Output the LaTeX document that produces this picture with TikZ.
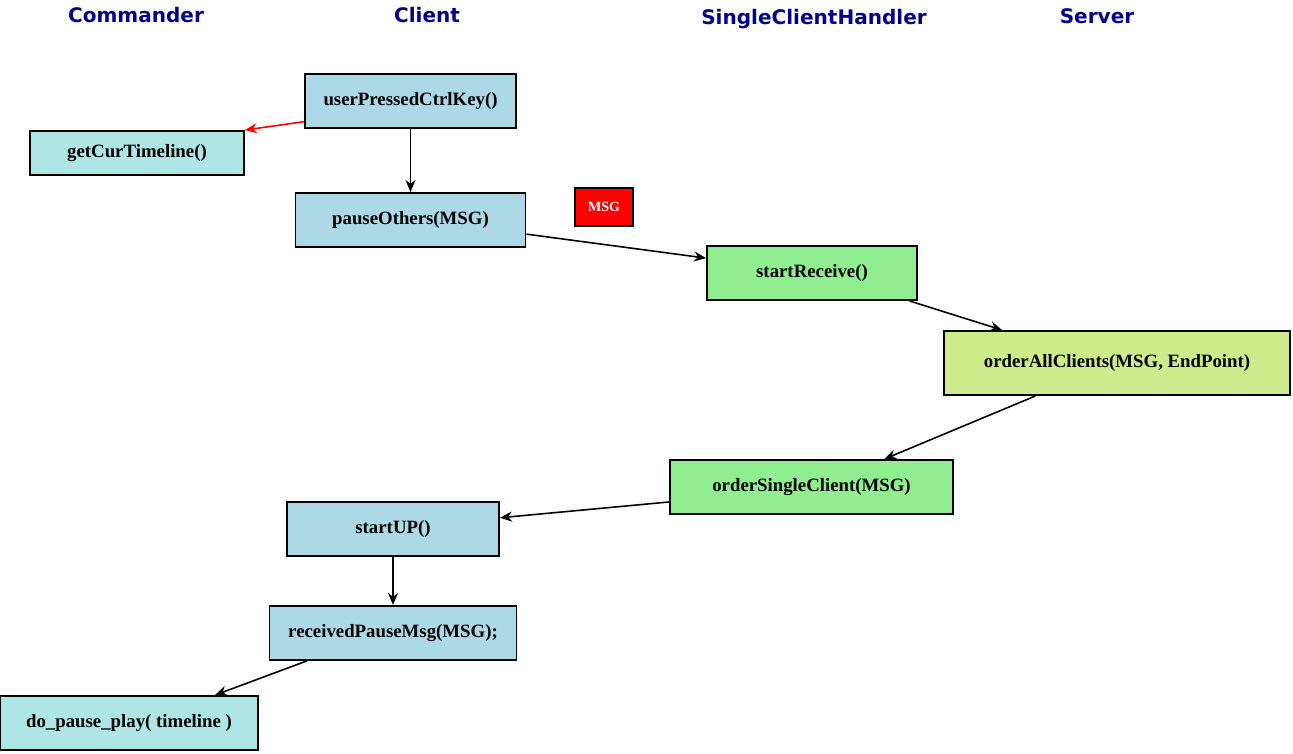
\documentclass[tikz,border=0pt]{standalone}
\usepackage{fontspec}
\setmainfont{Liberation Serif}
\newfontfamily\headfont{DejaVu Sans}
\usepackage{xcolor}
\usetikzlibrary{arrows.meta, positioning}

\definecolor{clientblue}{HTML}{ADD8E6}
\definecolor{cmdcyan}{HTML}{B0E5E5}
\definecolor{handlergreen}{HTML}{90EE90}
\definecolor{serverlime}{HTML}{CDEB8B}
\definecolor{headblue}{HTML}{00008B}

\begin{document}
\begin{tikzpicture}[
    x=0.02cm, y=-0.02cm,
    box/.style={draw, rectangle, line width=1.1pt, minimum height=1.08cm, inner sep=2pt, align=center, font=\bfseries\fontsize{10.7}{12}\selectfont},
    clientbox/.style={box, fill=clientblue},
    cmdbox/.style={box, fill=cmdcyan},
    handlerbox/.style={box, fill=handlergreen},
    serverbox/.style={box, fill=serverlime},
    msgbox/.style={draw, rectangle, line width=0.9pt, fill=red, text=white, minimum width=1.16cm, minimum height=0.76cm, font=\bfseries\fontsize{8}{9}\selectfont},
    head/.style={font=\headfont\bfseries\fontsize{11.4}{13}\selectfont, text=headblue},
    arrow/.style={line width=0.9pt,-{Stealth[length=2.4mm, width=2mm]}}
]
\useasboundingbox (0,0) rectangle (1293,753);

% column titles
\node (hcmd) [head] at (136,15) {Commander};
\node (hclient) [head] at (427,15) {Client};
\node (hhandler) [head] at (814,19) {SingleClientHandler};
\node (hserver) [head] at (1097,16) {Server};

\node (userp) [clientbox, minimum width=4.22cm] at (410.5,101) {userPressedCtrlKey()};
\node (getcur) [cmdbox, minimum width=4.28cm, minimum height=0.88cm] at (137,153) {getCurTimeline()};
\node (pause) [clientbox, minimum width=4.6cm, below=1.26cm of userp] {pauseOthers(MSG)};
\node (msg) [msgbox] at (604,207) {MSG};
\node (recv) [handlerbox, minimum width=4.2cm] at (812,273) {startReceive()};
\node (orderall) [serverbox, minimum width=6.92cm, minimum height=1.28cm] at (1117,363) {orderAllClients(MSG, EndPoint)};
\node (ordersingle) [handlerbox, minimum width=5.66cm] at (811.5,487) {orderSingleClient(MSG)};
\node (startup) [clientbox, minimum width=4.24cm] at (393,529) {startUP()};
\node (gotpause) [clientbox, minimum width=4.94cm, below=0.96cm of startup] {receivedPauseMsg(MSG);};
\node (doplay) [cmdbox, minimum width=5.16cm] at (129,723) {do\_pause\_play( timeline )};

\draw [arrow, red] (userp.191) -- (getcur.north east);
\draw [arrow] (userp) -- (pause);
\draw [arrow] (pause.-7) -- (recv.172);
\draw [arrow] (recv.-16) -- (orderall.164);
\draw [arrow] (orderall.202) -- (ordersingle.21);
\draw [arrow] (ordersingle.186) -- (startup.6);
\draw [arrow] (startup) -- (gotpause);
\draw [arrow] (gotpause.198) -- (doplay.18);
\end{tikzpicture}
\end{document}
